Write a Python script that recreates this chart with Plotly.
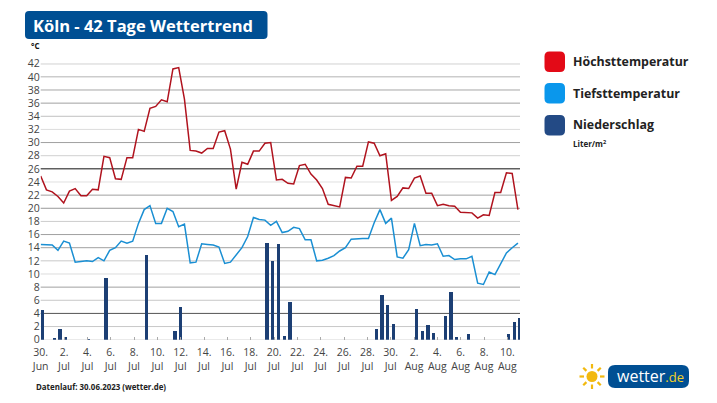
import plotly.graph_objects as GO

W = 717
H = 403

high_temp = [
    24.9, 22.8, 22.5, 21.8, 20.8, 22.6, 23.0, 21.9, 21.9, 22.9, 22.8, 27.9, 27.7, 24.5,
    24.4, 27.7, 27.7, 32.0, 31.7, 35.2, 35.5, 36.5, 36.2, 41.2, 41.4, 36.6, 28.8, 28.7,
    28.4, 29.1, 29.1, 31.6, 31.8, 29.0, 22.9, 27.0, 26.7, 28.7, 28.7, 29.9, 30.0,
    24.3, 24.4, 23.8, 23.7, 26.5, 26.7, 25.2, 24.3, 23.0, 20.6, 20.4, 20.2, 24.7,
    24.6, 26.4, 26.4, 30.1, 29.9, 28.0, 28.3, 21.2, 21.8, 23.1, 23.0, 24.6, 24.9,
    22.3, 22.3, 20.4, 20.6, 20.4, 20.3, 19.4, 19.4, 19.3, 18.5, 19.0, 18.9, 22.4,
    22.4, 25.4, 25.3, 19.8,
]
low_temp = [
    14.5, 14.5, 14.4, 13.6, 15.0, 14.7, 11.8, 11.9, 12.0, 11.9, 12.5, 12.0, 13.6, 14.0,
    15.0, 14.7, 15.0, 17.7, 19.8, 20.4, 17.7, 17.7, 20.0, 19.5, 17.2, 17.6, 11.7, 11.8,
    14.6, 14.5, 14.4, 14.1, 11.6, 11.8, 12.9, 14.0, 15.7, 18.6, 18.3, 18.2, 17.4, 18.0,
    16.3, 16.5, 17.1, 16.9, 15.2, 15.2, 12.0, 12.1, 12.4, 12.8, 13.5, 14.0, 15.3, 15.4,
    15.4, 15.4, 17.8, 19.8, 17.7, 18.5, 12.6, 12.4, 13.7, 17.7, 14.3, 14.5, 14.4, 14.6,
    12.7, 12.8, 12.2, 12.3, 12.3, 12.7, 8.6, 8.4, 10.3, 9.9, 11.6, 13.2, 14.0, 14.7,
]
# half-day slot -> liters, everything else is dry
rain_slots = [0, 2, 3, 4, 8, 11, 18, 23, 24, 39, 40, 41, 42, 43, 58, 59, 60, 61,
              65, 66, 67, 68, 70, 71, 72, 74, 81, 82, 83]
rain_values = [4.6, 0.3, 1.7, 0.5, 0.1, 9.4, 13.0, 1.3, 5.0, 14.7, 12.0, 14.6, 0.6, 5.8,
               1.6, 6.8, 5.4, 2.5, 4.7, 1.4, 2.3, 1.1, 3.7, 7.3, 0.4, 0.9, 0.9, 2.7, 3.3]

tick_labels = ["30.<br>Jun", "2.<br>Jul", "4.<br>Jul", "6.<br>Jul", "8.<br>Jul", "10.<br>Jul",
               "12.<br>Jul", "14.<br>Jul", "16.<br>Jul", "18.<br>Jul", "20.<br>Jul", "22.<br>Jul",
               "24.<br>Jul", "26.<br>Jul", "28.<br>Jul", "30.<br>Jul", "2.<br>Aug", "4.<br>Aug",
               "6.<br>Aug", "8.<br>Aug", "10.<br>Aug"]
y_ticks = list(range(0, 44, 2))
# grid lines are not all the same grey in the original, 26 and 4 are the strong ones
grid_colors = {
    42: "#8c8c8c", 40: "#b4b4b4", 38: "#a6a6a6", 36: "#a0a0a0", 34: "#c0c0c0", 32: "#dcdcdc",
    30: "#a0a0a0", 28: "#d0d0d0", 26: "#111111", 24: "#e0e0e0", 22: "#a0a0a0", 20: "#999999",
    18: "#cccccc", 16: "#a0a0a0", 14: "#a0a0a0", 12: "#c8c8c8", 10: "#dcdcdc", 8: "#a0a0a0",
    6: "#c8c8c8", 4: "#555555", 2: "#c8c8c8", 0: "#dddddd",
}

RED = "#b0131e"
BLUE = "#1a8fd3"
NAVY = "#1c3f74"
FONT = "Open Sans"


def px(x):
  return x / W


def py(y):
  return 1 - y / H


def round_box(x0, y0, x1, y1, r, color):
  # rounded rectangle given in page pixels
  a, b, c, d = px(x0), px(x1), py(y0), py(y1)
  rx, ry = r / W, r / H
  path = (
      f"M {a+rx} {c} L {b-rx} {c} Q {b} {c} {b} {c-ry} L {b} {d+ry} Q {b} {d} {b-rx} {d} "
      f"L {a+rx} {d} Q {a} {d} {a} {d+ry} L {a} {c-ry} Q {a} {c} {a+rx} {c} Z"
  )
  return dict(type="path", xref="paper", yref="paper", path=path,
              fillcolor=color, line=dict(width=0), layer="above")


def label(x, y, text, size, color="#222222", bold=True, anchor="left"):
  if bold:
    text = f"<b>{text}</b>"
  return dict(x=px(x), y=py(y), xref="paper", yref="paper", text=text, showarrow=False,
              xanchor=anchor, yanchor="middle", align="left",
              font=dict(family=FONT, size=size, color=color))


def main():
  slots = list(range(len(high_temp)))
  rain = [0] * len(slots)
  for s, v in zip(rain_slots, rain_values):
    rain[s] = v

  fig = GO.Figure()
  fig.add_trace(GO.Bar(x=slots, y=rain, width=0.55, offset=0.02,
                       marker=dict(color=NAVY, line=dict(width=0))))
  fig.add_trace(GO.Scatter(x=slots, y=low_temp, mode="lines",
                           line=dict(color=BLUE, width=1.5)))
  fig.add_trace(GO.Scatter(x=slots, y=high_temp, mode="lines",
                           line=dict(color=RED, width=1.5)))

  tick_step = 70 / 17.25
  shapes = []
  for val in y_ticks:
    shapes.append(dict(type="line", xref="x domain", yref="y", x0=0, x1=1, y0=val, y1=val,
                       line=dict(color=grid_colors[val], width=1), layer="below"))
  shapes += [
      round_box(25, 11, 267.5, 39, 4, "#004f93"),
      round_box(544.5, 51.5, 565, 72, 5, "#e30a17"),
      round_box(544.5, 83, 565, 103.5, 5, "#0a97ec"),
      round_box(544.5, 115, 565, 135.5, 5, "#234a85"),
      round_box(608, 365, 689, 388, 7, "#004f93"),
  ]

  # sun of the logo
  sun_x, sun_y = 592, 376.5
  shapes.append(dict(type="circle", xref="paper", yref="paper", x0=px(sun_x-5.5), x1=px(sun_x+5.5),
                     y0=py(sun_y+5.5), y1=py(sun_y-5.5), fillcolor="#f2b90f", line=dict(width=0)))
  for dx, dy in [(0, 1), (0, -1), (1, 0), (-1, 0), (0.7, 0.7), (-0.7, 0.7), (0.7, -0.7), (-0.7, -0.7)]:
    shapes.append(dict(type="line", xref="paper", yref="paper",
                       x0=px(sun_x+8*dx), y0=py(sun_y+8*dy), x1=px(sun_x+12.5*dx), y1=py(sun_y+12.5*dy),
                       line=dict(color="#f2b90f", width=2.2)))

  annotations = [
      label(31, 25, "Köln - 42 Tage Wettertrend", 16.5, "#ffffff"),
      label(28.5, 45.5, "°C", 8, "#111111"),
      label(571, 61.5, "Höchsttemperatur", 12.4, "#222222"),
      label(571, 93, "Tiefsttemperatur", 12.4, "#222222"),
      label(571, 125, "Niederschlag", 12.4, "#222222"),
      label(571, 143, "Liter/m<sup>2</sup>", 8, "#222222"),
      label(33.5, 386.5, "Datenlauf: 30.06.2023 (wetter.de)", 7.9, "#222222"),
      label(615, 376, "wetter<span style='color:#f5d327;font-size:13px'>.de</span>", 16, "#ffffff", bold=False),
  ]

  fig.update_layout(
      width=W,
      height=H,
      margin=dict(l=0, r=0, t=0, b=0),
      paper_bgcolor="white",
      plot_bgcolor="white",
      showlegend=False,
      bargap=0,
      shapes=shapes,
      annotations=annotations,
      xaxis=dict(
          automargin=False,
          domain=[px(40.7), px(520)],
          range=[0, 83.36],
          tickmode="array",
          tickvals=[i * tick_step for i in range(len(tick_labels))],
          ticktext=tick_labels,
          ticks="inside",
          ticklen=3,
          tickcolor="#aaaaaa",
          ticklabelstandoff=5,
          showgrid=False,
          zeroline=False,
          tickangle=0,
          tickfont=dict(family=FONT, size=10.5, color="#444444"),
      ),
      yaxis=dict(
          automargin=False,
          domain=[py(339.7), py(63.7)],
          range=[0, 42],
          tickmode="array",
          tickvals=y_ticks,
          showgrid=False,
          zeroline=False,
          ticks="",
          tickfont=dict(family=FONT, size=10.5, color="#444444"),
      ),
  )

  # the default page margin would push the figure off the window
  fig.write_html("out.html", config=dict(displayModeBar=False),
                 post_script="document.body.style.margin = '0';")


if __name__ == "__main__":
  main()
